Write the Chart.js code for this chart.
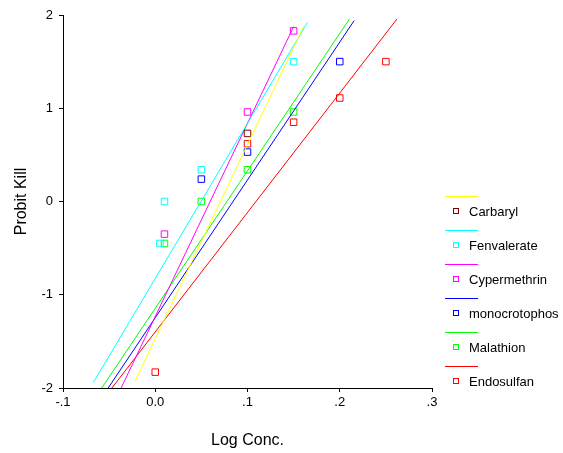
<!DOCTYPE html>
<html lang="en">
<head>
  <meta charset="UTF-8" />
  <title>Probit Kill vs Log Conc.</title>
  <style>
    body { margin:0; background:#fff; }
    #wrap { width:563px; height:453px; }
    canvas { display:block; }
  </style>
</head>
<body>
  <div id="wrap"><canvas id="chart" width="563" height="453"></canvas></div>

  <script src="https://cdn.jsdelivr.net/npm/chart.js"></script>
  <script>
  // axis tick labels as printed on the original plot
  const xTickLabels = ['-.1', '0.0', '.1', '.2', '.3'];
  const yTickValues = [-2, -1, 0, 1, 2];

  const seriesNames = ['Carbaryl', 'Fenvalerate', 'Cypermethrin', 'monocrotophos', 'Malathion', 'Endosulfan'];

  // observed points (log conc, probit kill)
  const carbarylX = [0.1];
  const carbarylY = [0.73];
  const fenvalerateX = [0.005, 0.01, 0.05, 0.15];
  const fenvalerateY = [-0.45, 0.0, 0.34, 1.5];
  const cypermethrinX = [0.01, 0.1, 0.15];
  const cypermethrinY = [-0.35, 0.96, 1.83];
  const monocrotophosX = [0.05, 0.1, 0.2];
  const monocrotophosY = [0.24, 0.53, 1.5];
  const malathionX = [0.01, 0.05, 0.1, 0.15];
  const malathionY = [-0.45, 0.0, 0.34, 0.96];
  const endosulfanX = [0.0, 0.1, 0.15, 0.2, 0.25];
  const endosulfanY = [-1.83, 0.62, 0.85, 1.11, 1.5];

  // fitted line end points
  const carbarylFitX = [-0.022, 0.161];
  const carbarylFitY = [-1.93, 1.88];
  const fenvalerateFitX = [-0.067, 0.165];
  const fenvalerateFitY = [-1.94, 1.92];
  const cypermethrinFitX = [-0.037, 0.150];
  const cypermethrinFitY = [-2.0, 1.875];
  const monocrotophosFitX = [-0.051, 0.2156];
  const monocrotophosFitY = [-2.0, 1.94];
  const malathionFitX = [-0.058, 0.2105];
  const malathionFitY = [-2.0, 1.957];
  const endosulfanFitX = [-0.047, 0.262];
  const endosulfanFitY = [-2.0, 1.957];

  const lineColors = ['#ffff00', '#00ffff', '#ff00ff', '#0000ff', '#00ff00', '#ff0000'];
  const markerColors = ['#800000', '#00ffff', '#ff00ff', '#0000ff', '#00ff00', '#ff0000'];

  const pointSets = [
    [carbarylX, carbarylY], [fenvalerateX, fenvalerateY], [cypermethrinX, cypermethrinY],
    [monocrotophosX, monocrotophosY], [malathionX, malathionY], [endosulfanX, endosulfanY]
  ];
  const fitSets = [
    [carbarylFitX, carbarylFitY], [fenvalerateFitX, fenvalerateFitY], [cypermethrinFitX, cypermethrinFitY],
    [monocrotophosFitX, monocrotophosFitY], [malathionFitX, malathionFitY], [endosulfanFitX, endosulfanFitY]
  ];

  const zip = (xs, ys) => xs.map((x, i) => ({ x: x, y: ys[i] }));

  const datasets = [];
  seriesNames.forEach((name, i) => {
    datasets.push({
      label: name + ' fit',
      type: 'line',
      data: zip(fitSets[i][0], fitSets[i][1]),
      borderColor: lineColors[i],
      borderWidth: 1,
      pointRadius: 0,
      showLine: true,
      fill: false,
      clip: false
    });
    datasets.push({
      label: name,
      type: 'scatter',
      data: zip(pointSets[i][0], pointSets[i][1]),
      pointStyle: 'rect',
      pointRadius: 4.6,
      borderWidth: 1,
      borderColor: markerColors[i],
      backgroundColor: 'rgba(0,0,0,0)',
      clip: false
    });
  });

  // legend: short line above, square marker + name below
  const sideLegend = {
    id: 'sideLegend',
    afterDraw(chart) {
      const ctx = chart.ctx;
      ctx.save();
      ctx.font = '13px "Liberation Sans", Arial, sans-serif';
      ctx.textBaseline = 'middle';
      ctx.fillStyle = '#000';
      seriesNames.forEach((name, i) => {
        const ly = 196 + i * 34;
        ctx.strokeStyle = lineColors[i];
        ctx.lineWidth = 1;
        ctx.beginPath();
        ctx.moveTo(445, ly + 0.5);
        ctx.lineTo(478, ly + 0.5);
        ctx.stroke();
        ctx.strokeStyle = markerColors[i];
        ctx.strokeRect(453.5, ly + 12.5, 5, 5);
        ctx.fillStyle = '#000';
        ctx.fillText(name, 469, ly + 16);
      });
      ctx.restore();
    }
  };

  const font = { family: '"Liberation Sans", Arial, sans-serif', size: 13 };

  new Chart(document.getElementById('chart'), {
    type: 'scatter',
    data: { datasets: datasets },
    options: {
      responsive: false,
      animation: false,
      layout: { padding: { left: 0, right: 131, top: 15, bottom: 0 } },
      plugins: { legend: { display: false }, tooltip: { enabled: false } },
      scales: {
        x: {
          type: 'linear', min: -0.1, max: 0.3,
          afterBuildTicks: s => { s.ticks = xTickLabels.map((_, i) => ({ value: -0.1 + i * 0.1 })); },
          afterFit: s => { s.height = 65; },
          grid: { display: true, drawOnChartArea: false, drawTicks: true, tickLength: 4, color: '#000' },
          border: { display: true, color: '#000', width: 1 },
          ticks: { color: '#000', font: font, padding: 3, maxRotation: 0,
                   callback: (v, i) => xTickLabels[i] },
          title: { display: true, text: 'Log Conc.', color: '#000',
                   font: { family: font.family, size: 16 }, padding: { bottom: 3, top: 0 } }
        },
        y: {
          type: 'linear', min: -2, max: 2,
          afterBuildTicks: s => { s.ticks = yTickValues.map(v => ({ value: v })); },
          afterFit: s => { s.width = 63; },
          grid: { display: true, drawOnChartArea: false, drawTicks: true, tickLength: 4, color: '#000' },
          border: { display: true, color: '#000', width: 1 },
          ticks: { color: '#000', font: font, padding: 6, callback: v => String(v) },
          title: { display: true, text: 'Probit Kill', color: '#000',
                   font: { family: font.family, size: 16 }, padding: { top: 12, bottom: 0 } }
        }
      }
    },
    plugins: [sideLegend]
  });
  </script>
</body>
</html>
